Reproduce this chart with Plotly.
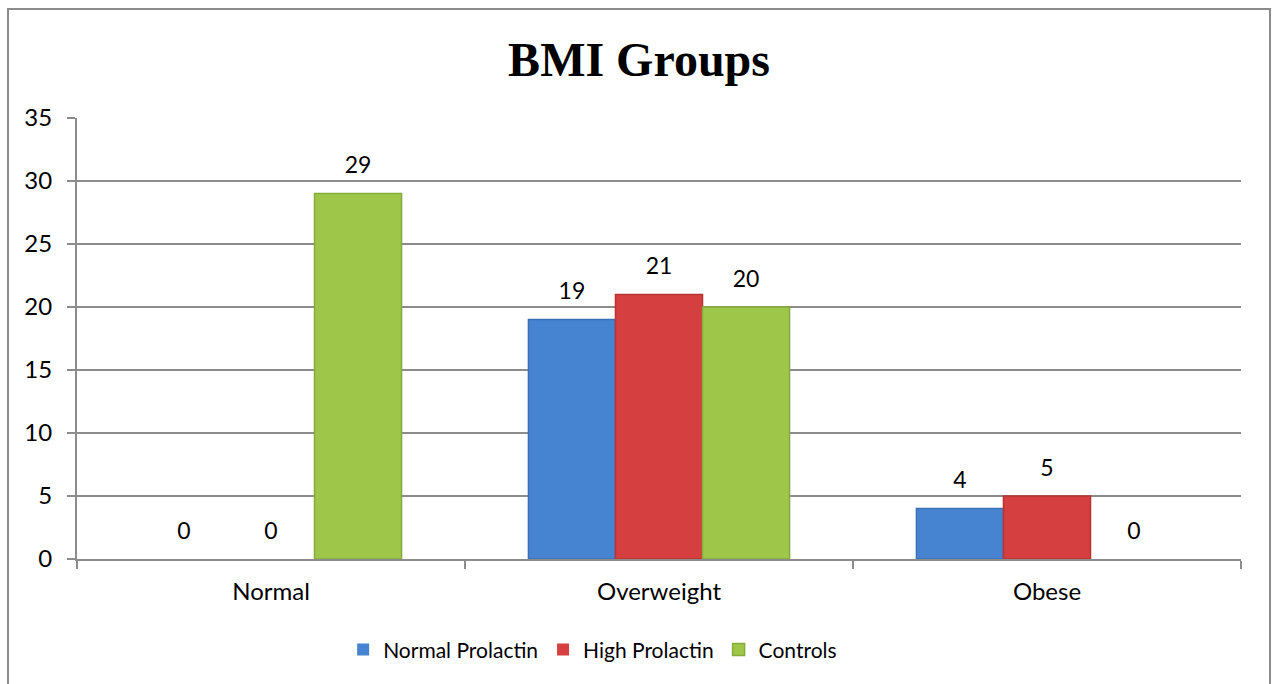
import plotly.graph_objects as go

# BMI group counts per study arm
categories = ["Normal", "Overweight", "Obese"]
normal_prolactin = [0, 19, 4]
high_prolactin = [0, 21, 5]
controls = [29, 20, 0]

series_names = ["Normal Prolactin", "High Prolactin", "Controls"]
series_values = [normal_prolactin, high_prolactin, controls]
fill_colors = ["#4684d2", "#d63f3f", "#9ec74a"]
edge_colors = ["#3a70b8", "#b83434", "#85ac3a"]

y_ticks = [0, 5, 10, 15, 20, 25, 30, 35]

FAMILY = "Lato, 'Open Sans', sans-serif"
GRID = "#8c8c8c"

fig = go.Figure()

for name, vals, fc, ec in zip(series_names, series_values, fill_colors, edge_colors):
    fig.add_trace(go.Bar(
        x=categories, y=vals, name=name, offsetgroup=name,
        # thin darker rim on visible bars only
        marker=dict(color=fc, line=dict(color=ec, width=[1.5 if v else 0 for v in vals])),
        hoverinfo="x+y+name",
    ))

# value labels sit a little above each bar (invisible marker pushes text up)
for name, vals in zip(series_names, series_values):
    fig.add_trace(go.Scatter(
        x=categories, y=vals, offsetgroup=name, mode="markers+text",
        text=[str(v) for v in vals], textposition="top center",
        textfont=dict(family=FAMILY, size=23, color="#000000"),
        marker=dict(size=22, color="rgba(0,0,0,0)"),
        showlegend=False, hoverinfo="skip", cliponaxis=False,
    ))

fig.update_layout(
    width=1273, height=684,
    margin=dict(l=77, r=32, t=118, b=125),
    paper_bgcolor="white", plot_bgcolor="white",
    barmode="group", bargap=0.327, bargroupgap=0,
    scattermode="group",
    font=dict(family=FAMILY, size=23, color="#000000"),
    title=dict(
        text="<b>BMI Groups</b>",
        font=dict(family="'Liberation Serif', 'Times New Roman', serif", size=48, color="#000000"),
        x=0.502, xref="container", xanchor="center",
        y=0.913, yref="container", yanchor="middle",
    ),
    legend=dict(
        orientation="h", x=0.443, xanchor="center", y=-0.206, yanchor="middle",
        font=dict(family=FAMILY, size=21, color="#000000"),
        itemwidth=30, traceorder="normal",
    ),
    showlegend=True,
    shapes=[dict(
        type="rect", xref="paper", yref="paper",
        x0=(8 - 77) / 1164, x1=(1270 - 77) / 1164,
        y0=-0.4, y1=(559 - 9) / 441,
        line=dict(color="#8c8c8c", width=2), fillcolor="rgba(0,0,0,0)", layer="below",
    )],
)

fig.update_yaxes(
    range=[0, 35], tickvals=y_ticks, showgrid=True, gridcolor=GRID, gridwidth=2,
    zeroline=False, showline=True, linecolor=GRID, linewidth=2,
    ticks="outside", ticklen=8, tickcolor=GRID, tickwidth=2, ticklabelstandoff=10,
    tickfont=dict(family=FAMILY, size=24, color="#000000"),
)
fig.update_xaxes(
    showgrid=False, showline=True, linecolor=GRID, linewidth=2,
    ticks="outside", ticklen=8, tickcolor=GRID, tickwidth=2, tickson="boundaries",
    ticklabelstandoff=10,
    tickfont=dict(family=FAMILY, size=24, color="#000000"),
)

fig.write_html("out.html")
